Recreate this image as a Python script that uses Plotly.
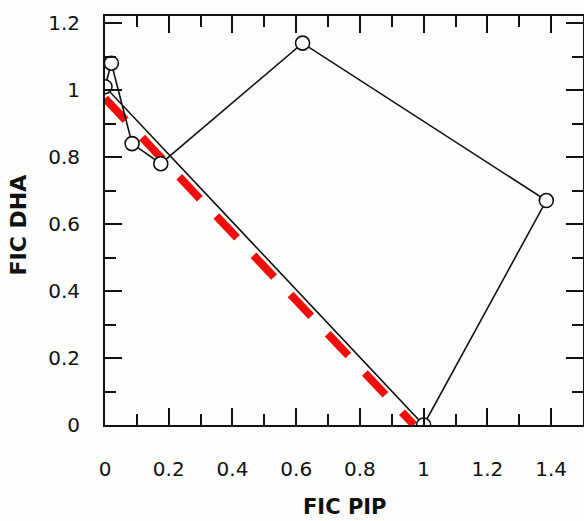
import plotly.graph_objects as go

# Data
fic_pip = [0.0, 0.02, 0.085, 0.175, 0.62, 1.385, 1.0, 0.0]
fic_dha = [1.01, 1.08, 0.84, 0.78, 1.14, 0.67, 0.0, 1.01]

# Marked experimental points (no closing duplicate)
point_pip = [0.0, 0.02, 0.085, 0.175, 0.62, 1.385, 1.0]
point_dha = [1.01, 1.08, 0.84, 0.78, 1.14, 0.67, 0.0]

# Additivity reference line (red dashed)
add_pip = [0.0, 0.97]
add_dha = [0.975, 0.0]

x_ticks = [0, 0.2, 0.4, 0.6, 0.8, 1.0, 1.2, 1.4]
x_labels = ["0", "0.2", "0.4", "0.6", "0.8", "1", "1.2", "1.4"]
y_ticks = [0, 0.2, 0.4, 0.6, 0.8, 1.0, 1.2]
y_labels = ["0", "0.2", "0.4", "0.6", "0.8", "1", "1.2"]

BG = "#fdfdfb"
TICKFONT = dict(family="DejaVu Sans, Verdana, sans-serif", size=20, color="#111111")
XTITLEFONT = dict(family="DejaVu Sans, Verdana, sans-serif", size=21, color="#111111")
YTITLEFONT = dict(family="DejaVu Sans, Verdana, sans-serif", size=22, color="#111111")

fig = go.Figure()

fig.add_trace(go.Scatter(
    x=add_pip, y=add_dha, mode="lines",
    line=dict(color="#f20d0d", width=8, dash="30px,24px"),
    hoverinfo="skip", showlegend=False,
))

fig.add_trace(go.Scatter(
    x=fic_pip, y=fic_dha, mode="lines",
    line=dict(color="#111111", width=1.6),
    hoverinfo="skip", showlegend=False,
))

fig.add_trace(go.Scatter(
    x=point_pip, y=point_dha, mode="markers",
    marker=dict(symbol="circle", size=14, color="white",
                line=dict(color="#111111", width=1.6)),
    showlegend=False,
))

axis_common = dict(
    showgrid=False, zeroline=False, showline=True, linecolor="#111111",
    linewidth=2, mirror="allticks", ticks="inside", ticklen=17, tickwidth=1.5,
    tickcolor="#111111", tickfont=TICKFONT,
)

fig.update_xaxes(
    range=[0, 1.5], tickvals=x_ticks, ticktext=x_labels,
    ticklabelstandoff=25,
    minor=dict(dtick=0.1, tick0=0, ticks="inside", ticklen=11, tickwidth=1.5,
               tickcolor="#111111", showgrid=False),
    **axis_common,
)
fig.update_yaxes(
    range=[0, 1.221], tickvals=y_ticks, ticktext=y_labels,
    ticklabelstandoff=19,
    minor=dict(dtick=0.1, tick0=0, ticks="inside", ticklen=11, tickwidth=1.5,
               tickcolor="#111111", showgrid=False),
    **axis_common,
)

fig.add_annotation(
    text="<b>FIC PIP</b>", xref="paper", yref="paper", x=0.5, y=0,
    xanchor="center", yanchor="middle", yshift=-82, showarrow=False,
    font=XTITLEFONT,
)
fig.add_annotation(
    text="<b>FIC DHA</b>", xref="paper", yref="paper", x=0, y=0.5,
    xanchor="center", yanchor="middle", xshift=-87.5, yshift=-4.5,
    textangle=-90, showarrow=False, font=YTITLEFONT,
)

fig.update_layout(
    width=584, height=521,
    margin=dict(l=105, r=1, t=16, b=96, autoexpand=False),
    paper_bgcolor=BG, plot_bgcolor=BG,
    showlegend=False,
)

fig.write_html("out.html")
